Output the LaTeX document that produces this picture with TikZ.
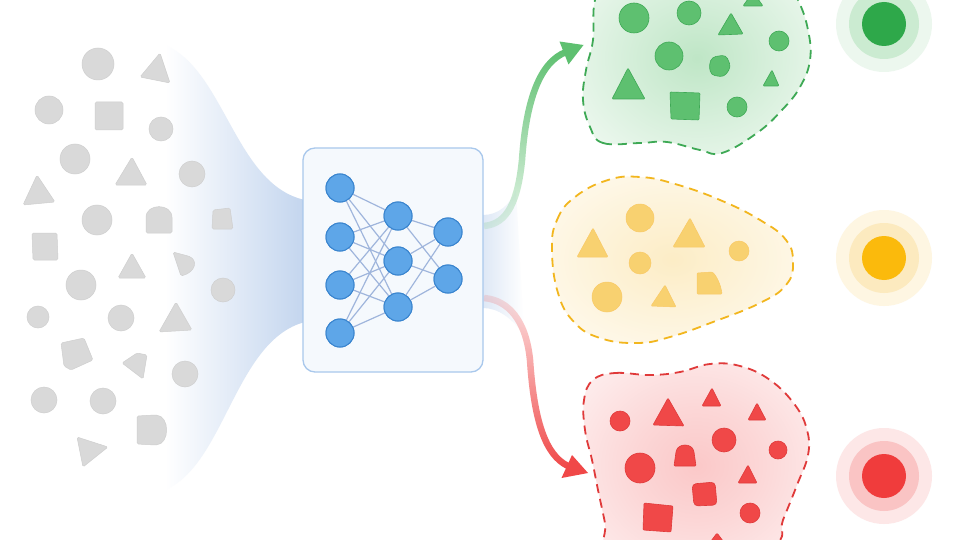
\documentclass[tikz,border=0pt]{standalone}
\usetikzlibrary{fadings}
\definecolor{gshape}{HTML}{D9D9D9}
\definecolor{gshapeD}{HTML}{CFCFCF}
\definecolor{funnel}{HTML}{C3D5EE}
\definecolor{boxfill}{HTML}{F5F9FD}
\definecolor{boxline}{HTML}{A9C8EC}
\definecolor{neuron}{HTML}{5EA6E8}
\definecolor{neuronD}{HTML}{3A85CF}
\definecolor{wire}{HTML}{9FB5DC}
\definecolor{gG}{HTML}{5EC070}
\definecolor{gD}{HTML}{3EA955}
\definecolor{gCore}{HTML}{2EA84A}
\definecolor{yG}{HTML}{F8D170}
\definecolor{yD}{HTML}{F2B61E}
\definecolor{yCore}{HTML}{FBBA0C}
\definecolor{rG}{HTML}{F04848}
\definecolor{rD}{HTML}{E03A3A}
\definecolor{rCore}{HTML}{F03C3C}
\pgfdeclareradialshading{glowG}{\pgfpoint{0bp}{0bp}}{color(0bp)=(gG!40); color(14bp)=(gG!27); color(36bp)=(gG!7); color(48bp)=(white); color(70bp)=(white)}
\pgfdeclareradialshading{glowY}{\pgfpoint{0bp}{0bp}}{color(0bp)=(yG!40); color(14bp)=(yG!28); color(36bp)=(yG!9); color(48bp)=(white); color(70bp)=(white)}
\pgfdeclareradialshading{glowR}{\pgfpoint{0bp}{0bp}}{color(0bp)=(rG!30); color(14bp)=(rG!22); color(36bp)=(rG!7); color(48bp)=(white); color(70bp)=(white)}
\tikzfading[name=fadeup, top color=transparent!0, bottom color=transparent!85]
\tikzfading[name=fadedown, top color=transparent!85, bottom color=transparent!0]
\tikzset{
  gray shape/.style={fill=gshape, draw=gshapeD, line width=0.5pt, rounded corners=1.5pt},
  gr shape/.style={fill=gG, draw=gD, line width=0.6pt, rounded corners=1pt},
  ye shape/.style={fill=yG, draw=yG!90!orange, line width=0.5pt, rounded corners=1pt},
  re shape/.style={fill=rG, draw=rD, line width=0.6pt, rounded corners=1pt},
  dashline/.style={dash pattern=on 9pt off 6pt, line width=1.8pt},
  neu/.style={circle, fill=neuron, draw=neuronD, line width=1pt, minimum size=28pt, inner sep=0pt},
  wirestyle/.style={draw=wire, line width=1.2pt},
}
\begin{document}
\begin{tikzpicture}[x=1pt,y=-1pt]
\useasboundingbox (0,0) rectangle (960,540);
\fill[white] (0,0) rectangle (960,540);

% funnel into network
\shade[left color=white, right color=funnel] (165,45) .. controls (225,70) and (235,185) .. (305,200) -- (305,322) .. controls (235,340) and (225,465) .. (165,490) -- cycle;

% gray input shapes
\fill[gray shape] (98,64) circle[radius=16pt];
\fill[gray shape] (140,77) -- (160,53) -- (170,83) -- cycle;
\fill[gray shape] (49,110) circle[radius=14pt];
\fill[gray shape] (95,102) rectangle (123,130);
\fill[gray shape] (161,129) circle[radius=12pt];
\fill[gray shape] (75,159) circle[radius=15pt];
\fill[gray shape] (115,185) -- (132,157) -- (147,185) -- cycle;
\fill[gray shape] (192,174) circle[radius=13pt];
\fill[gray shape] (23,205) -- (37,175) -- (55,202) -- cycle;
\fill[gray shape] (97,220) circle[radius=15pt];
\fill[gray shape] (146,233) -- (146,219) .. controls (146,203) and (172,203) .. (172,219) -- (172,233) -- cycle;
\fill[gray shape] (213,210) -- (230,208) -- (233,229) -- (212,229) -- cycle;
\fill[gray shape] (32,233) -- (57,233) -- (58,260) -- (33,260) -- cycle;
\fill[gray shape] (118,278) -- (132,253) -- (146,278) -- cycle;
\fill[gray shape] (173,252) -- (188,256) .. controls (198,260) and (196,272) .. (181,276) -- cycle;
\fill[gray shape] (81,285) circle[radius=15pt];
\fill[gray shape] (223,290) circle[radius=12pt];
\fill[gray shape] (38,317) circle[radius=11pt];
\fill[gray shape] (121,318) circle[radius=13pt];
\fill[gray shape] (159,332) -- (176,302) -- (192,330) -- cycle;
\fill[gray shape] (61,343) -- (84,338) -- (93,360) -- (71,370) -- (64,366) -- cycle;
\fill[gray shape] (122,363) -- (137,353) -- (147,355) -- (143,379) -- cycle;
\fill[gray shape] (185,374) circle[radius=13pt];
\fill[gray shape] (44,400) circle[radius=13pt];
\fill[gray shape] (103,401) circle[radius=13pt];
\fill[gray shape] (137,416) -- (155,415) .. controls (170,416) and (170,444) .. (155,445) -- (137,444) -- cycle;
\fill[gray shape] (77,437) -- (108,447) -- (83,467) -- cycle;

% outputs fan from the box
\shade[left color=funnel!55, right color=white] (483,215) .. controls (498,215) and (510,205) .. (516,190) -- (524,335) .. controls (512,318) and (498,308) .. (483,308) -- cycle;
\draw[line width=6.5pt, gG, path fading=fadeup] (484,226) .. controls (508,224) and (518,200) .. (522,160) .. controls (526,100) and (540,62) .. (566,52);
\draw[line width=6.5pt, rG, path fading=fadedown] (484,298) .. controls (508,300) and (526,320) .. (530,360) .. controls (534,420) and (545,455) .. (568,466);
\fill[gG] (583.5,45) -- (559.5,41.5) -- (568.5,64.5) -- cycle;
\fill[rG] (588,473) -- (561.5,478) -- (572,455) -- cycle;

% network box
\node[draw=boxline, fill=boxfill, line width=1.3pt, rounded corners=12pt, minimum width=180pt, minimum height=224pt] (box) at (393,260) {};
\node[neu] (a1) at (340,188) {};
\node[neu] (a2) at (340,237) {};
\node[neu] (a3) at (340,285) {};
\node[neu] (a4) at (340,333) {};
\node[neu] (b1) at (398,216) {};
\node[neu] (b2) at (398,261) {};
\node[neu] (b3) at (398,307) {};
\node[neu] (c1) at (448,232) {};
\node[neu] (c2) at (448,279) {};
\foreach \s in {a1,a2,a3,a4}{\foreach \t in {b1,b2,b3}{\draw[wirestyle] (\s) -- (\t);}}
\foreach \s in {b1,b2,b3}{\foreach \t in {c1,c2}{\draw[wirestyle] (\s) -- (\t);}}
\foreach \n in {a1,a2,a3,a4,b1,b2,b3,c1,c2}{\node[neu] at (\n) {};}

% green cluster
\shadedraw[shading=glowG, draw=gD, dashline] plot[smooth cycle, tension=0.7] coordinates {(590,127) (603,143) (640,143) (667,142) (700,150) (722,153) (757,133) (782,110) (800,87) (810,60) (808,30) (798,0) (780,-30) (700,-40) (610,-30) (595,0) (593,40) (586,70) (583,100)};
\filldraw[gr shape] (634,18) circle[radius=15pt];
\filldraw[gr shape] (689,13) circle[radius=12pt];
\filldraw[gr shape] (743,6) -- (753,-8) -- (763,6) -- cycle;
\filldraw[gr shape] (718,35) -- (731,13) -- (743,34) -- cycle;
\filldraw[gr shape] (779,41) circle[radius=10pt];
\filldraw[gr shape] (669,56) circle[radius=14pt];
\filldraw[gr shape, rounded corners=4pt] (712,57) -- (726,55) -- (731,67) -- (724,77) -- (711,75) -- (709,65) -- cycle;
\filldraw[gr shape] (612,99) -- (628,68) -- (645,99) -- cycle;
\filldraw[gr shape] (763,86) -- (772,70) -- (779,86) -- cycle;
\filldraw[gr shape] (670,92) -- (700,93) -- (699,120) -- (671,119) -- cycle;
\filldraw[gr shape] (737,107) circle[radius=10pt];
\fill[gG!12] (884,24) circle[radius=48pt];
\fill[gG!32] (884,24) circle[radius=35pt];
\fill[gCore] (884,24) circle[radius=22pt];

% yellow cluster
\shadedraw[shading=glowY, draw=yD, dashline] plot[smooth cycle, tension=0.75] coordinates {(552,250) (557,220) (575,197) (608,180) (640,177) (675,184) (720,200) (760,220) (786,240) (793,263) (786,285) (760,303) (713,322) (670,337) (637,343) (600,338) (574,322) (558,293)};
\filldraw[ye shape] (640,218) circle[radius=14pt];
\filldraw[ye shape] (577,257) -- (593,228) -- (608,257) -- cycle;
\filldraw[ye shape] (673,247) -- (690,218) -- (705,247) -- cycle;
\filldraw[ye shape] (739,251) circle[radius=10pt];
\filldraw[ye shape] (640,263) circle[radius=11pt];
\filldraw[ye shape] (607,297) circle[radius=15pt];
\filldraw[ye shape] (651,306) -- (665,285) -- (676,307) -- cycle;
\filldraw[ye shape] (697,294) -- (697,273) -- (712,272) .. controls (717,276) and (721,286) .. (722,294) -- cycle;
\fill[yG!20] (884,258) circle[radius=48pt];
\fill[yG!45] (884,258) circle[radius=35pt];
\fill[yCore] (884,258) circle[radius=22pt];

% red cluster
\shadedraw[shading=glowR, draw=rD, dashline] plot[smooth cycle, tension=0.7] coordinates {(593,380) (615,373) (650,375) (680,372) (710,364) (740,366) (770,380) (795,405) (807,430) (808,455) (797,485) (783,520) (773,545) (700,565) (612,560) (605,523) (598,490) (592,460) (585,430) (584,400)};
\filldraw[re shape] (620,421) circle[radius=10pt];
\filldraw[re shape] (653,425) -- (668,398) -- (684,426) -- cycle;
\filldraw[re shape] (702,406) -- (712,388) -- (721,406) -- cycle;
\filldraw[re shape] (748,420) -- (757,403) -- (766,420) -- cycle;
\filldraw[re shape] (724,440) circle[radius=12pt];
\filldraw[re shape] (778,450) circle[radius=9pt];
\filldraw[re shape] (640,468) circle[radius=15pt];
\filldraw[re shape] (674,466) -- (676,452) .. controls (678,443) and (692,443) .. (694,452) -- (696,466) -- cycle;
\filldraw[re shape] (738,483) -- (748,465) -- (757,483) -- cycle;
\filldraw[re shape, rounded corners=4pt] (692,484) -- (715,482) -- (717,505) -- (694,506) -- cycle;
\filldraw[re shape] (750,513) circle[radius=10pt];
\filldraw[re shape] (644,503) -- (673,506) -- (671,532) -- (643,530) -- cycle;
\filldraw[re shape] (708,545) -- (717,533) -- (726,545) -- cycle;
\fill[rG!13] (884,476) circle[radius=48pt];
\fill[rG!32] (884,476) circle[radius=35pt];
\fill[rCore] (884,476) circle[radius=22pt];
\end{tikzpicture}
\end{document}
